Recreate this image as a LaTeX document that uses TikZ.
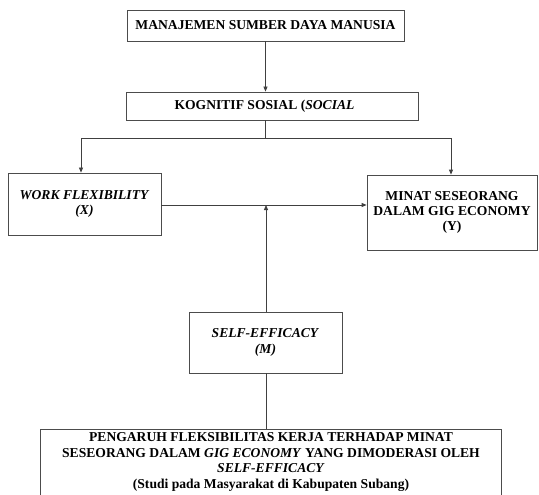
\documentclass[tikz,border=0pt]{standalone}
\usepackage{fontspec}
\setmainfont{Liberation Serif}
\usetikzlibrary{arrows.meta,calc}
\begin{document}
\begin{tikzpicture}[x=1pt,y=-1pt,
  box/.style={draw=black!70, line width=0.8pt, fill=white, align=center, inner sep=0pt,
    font=\fontsize{13.6}{15.4}\selectfont\bfseries},
  txt/.style={align=center, inner sep=0pt, font=\fontsize{13.6}{15.4}\selectfont\bfseries},
  conn/.style={draw=black!75, line width=0.8pt},
  arr/.style={conn, -{Triangle[length=5pt,width=4pt]}}]
\useasboundingbox (0,0) rectangle (539,495);
\node[box, minimum width=277, minimum height=31] (msdm) at (265.5,25.5) {MANAJEMEN SUMBER DAYA MANUSIA};
\node[box, minimum width=292, minimum height=28] (kog) at (272,106) {\hspace*{-15pt}KOGNITIF SOSIAL (\textit{SOCIAL}};
\node[box, minimum width=153, minimum height=62] (wf) at (84.5,204) {\textit{WORK FLEXIBILITY}\\\textit{(X)}};
\node[box, minimum width=170, minimum height=75] (y) at (452,212.5) {MINAT SESEORANG\\DALAM GIG ECONOMY\\(Y)};
\node[box, minimum width=153, minimum height=61] (se) at (265.5,342.5) {\textit{SELF-EFFICACY}\\\textit{(M)}};
\node[box, minimum width=461, minimum height=80, anchor=north] (frame) at (270.5,429) {};
\node[txt] (judul) at (271,462) {PENGARUH FLEKSIBILITAS KERJA TERHADAP MINAT\\SESEORANG DALAM \textit{GIG ECONOMY} YANG DIMODERASI OLEH\\\textit{SELF-EFFICACY}\\(Studi pada Masyarakat di Kabupaten Subang)};
\draw[arr] (msdm.south) -- (msdm.south |- kog.north);
\draw[conn] (msdm.south |- kog.south) -- ++(0,18) coordinate (split);
\draw[arr] (split) -| ([xshift=-3.5pt]wf.north);
\draw[arr] (split) -| ([xshift=-1pt]y.north);
\coordinate (wfe) at ([yshift=-1pt]wf.east);
\draw[arr] (wfe) -- (wfe -| y.west);
\coordinate (mod) at (266,205);
\draw[arr] (se.north -| mod) -- (mod);
\draw[conn] (se.south -| mod) -- (mod |- frame.north);
\end{tikzpicture}
\end{document}
